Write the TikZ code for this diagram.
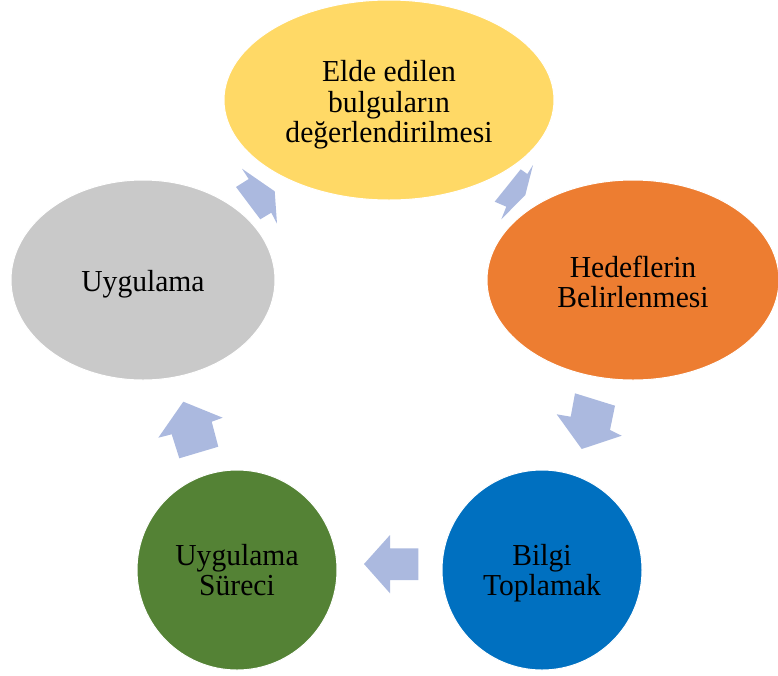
\documentclass[tikz,border=0pt]{standalone}
\usepackage{fontspec}
\setmainfont{Liberation Serif}[FakeStretch=0.97]
\usetikzlibrary{shapes.geometric}
\definecolor{cyel}{RGB}{255,217,102}
\definecolor{cora}{RGB}{237,125,49}
\definecolor{cblu}{RGB}{0,112,192}
\definecolor{cgrn}{RGB}{84,130,53}
\definecolor{cgry}{RGB}{201,201,201}
\definecolor{carr}{RGB}{171,185,223}
\newcommand{\lines}[2]{\raisebox{#1}[\height][\depth]{\begin{tabular}{@{}c@{}}#2\end{tabular}}}
\tikzset{
  blob/.style={ellipse, draw=white, line width=1pt, inner sep=0pt,
    font=\fontsize{30.5}{30}\selectfont, text=black},
  blockarrow/.style={fill=carr, draw=none}
}
\begin{document}
\begin{tikzpicture}[x=1pt,y=-1pt]
\useasboundingbox (0,0) rectangle (778,675);
\node[blob, fill=cyel, minimum width=330pt, minimum height=200pt] (top) at (389,100)
  {\lines{-6pt}{Elde edilen\\bulguların\\değerlendirilmesi}};
\node[blob, fill=cora, minimum width=292pt, minimum height=200pt] (right) at (633,280)
  {\lines{-6pt}{Hedeflerin\\Belirlenmesi}};
\node[blob, fill=cblu, minimum width=200pt, minimum height=200pt] (bright) at (542,570)
  {\lines{-4pt}{Bilgi\\Toplamak}};
\node[blob, fill=cgrn, minimum width=200pt, minimum height=200pt] (bleft) at (237,570)
  {\lines{-4pt}{Uygulama\\Süreci}};
\node[blob, fill=cgry, minimum width=264pt, minimum height=200pt] (left) at (143,280)
  {\lines{-5pt}{Uygulama}};
% block arrows
\fill[blockarrow] (274.7,191.3) -- (277,223.7) -- (271.3,212.7) -- (260.3,219.3)
  -- (236,187) -- (248.7,179) -- (242,168.7) -- cycle;
\fill[blockarrow] (525.3,195) -- (501.3,219.3) -- (506.3,206.7) -- (494.7,201.7)
  -- (520.7,169.3) -- (527.3,174) -- (533,165) -- cycle;
\fill[blockarrow] (581.7,449) -- (556.7,414.3) -- (570.7,416.7) -- (575,393.3)
  -- (615,405.7) -- (610,430) -- (621.7,435.7) -- cycle;
\fill[blockarrow] (364,564) -- (390,535) -- (390,548.3) -- (418.3,548.3)
  -- (418.3,580) -- (390,580) -- (390,593.3) -- cycle;
\fill[blockarrow] (183.3,401.7) -- (222.7,417.7) -- (211.7,421.7) -- (218.3,446.7)
  -- (179.3,458.3) -- (171.7,434.3) -- (158.3,437.7) -- cycle;
\end{tikzpicture}
\end{document}
